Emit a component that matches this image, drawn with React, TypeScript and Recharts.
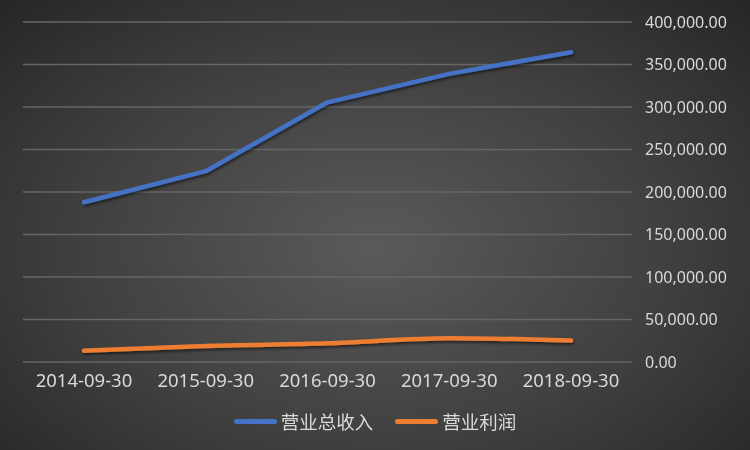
import React from 'react';
import { LineChart, Line, XAxis, YAxis, CartesianGrid, Legend } from 'recharts';

const dates = ['2014-09-30', '2015-09-30', '2016-09-30', '2017-09-30', '2018-09-30'];
const revenue = [188000, 224500, 305500, 339000, 364500];
const profit = [13200, 18800, 22000, 28000, 25200];
const yTicks = [0, 50000, 100000, 150000, 200000, 250000, 300000, 350000, 400000];

const seriesNames = ['营业总收入', '营业利润'];
const seriesColors = ['#4472C4', '#ED7D31'];

const data = dates.map((d, i) => ({ date: d, revenue: revenue[i], profit: profit[i] }));

const numFont = '"Liberation Sans Narrow", "Noto Sans", sans-serif';
const cjkFont = '"Noto Sans CJK SC", sans-serif';

const fmt = (v: number) =>
  v.toLocaleString('en-US', { minimumFractionDigits: 2, maximumFractionDigits: 2 });

function LegendBox() {
  return (
    <div style={{ display: 'flex', justifyContent: 'center', alignItems: 'center', gap: 22, height: 26 }}>
      {seriesNames.map((n, i) => (
        <div key={n} style={{ display: 'flex', alignItems: 'center' }}>
          <span
            style={{
              display: 'inline-block',
              width: 43,
              height: 5,
              borderRadius: 3,
              background: seriesColors[i],
              marginRight: 4,
            }}
          />
          <span style={{ color: '#d9d9d9', fontSize: 18.5, fontFamily: cjkFont, lineHeight: '26px' }}>{n}</span>
        </div>
      ))}
    </div>
  );
}

export default function App() {
  return (
    <div
      style={{
        position: 'fixed',
        left: 0,
        top: 0,
        width: 750,
        height: 450,
        background: 'radial-gradient(ellipse at 50% 55%, #5a5a5a 0%, #404040 55%, #262626 100%)',
      }}
    >
      <LineChart width={750} height={450} data={data} margin={{ top: 22, right: 8, left: 23, bottom: 32 }}>
        <defs>
          <filter id='lineShadow' x='-10%' y='-10%' width='120%' height='140%'>
            <feDropShadow dx='1' dy='2' stdDeviation='1.5' floodColor='#000' floodOpacity='0.55' />
          </filter>
        </defs>
        <CartesianGrid vertical={false} stroke='#666666' strokeWidth={1.3} />
        <XAxis
          dataKey='date'
          padding={{ left: 61, right: 61 }}
          axisLine={false}
          tickLine={false}
          tickSize={0}
          tickMargin={12}
          height={30}
          tick={{ fill: '#d9d9d9', fontSize: 18.5, fontFamily: numFont }}
        />
        <YAxis
          orientation='right'
          domain={[0, 400000]}
          ticks={yTicks}
          tickFormatter={fmt}
          axisLine={false}
          tickLine={false}
          tickSize={0}
          tickMargin={13}
          width={110}
          tick={{ fill: '#d9d9d9', fontSize: 16, fontFamily: numFont, textAnchor: 'start' }}
        />
        <Legend content={<LegendBox />} wrapperStyle={{ left: 0, width: 750, top: 408 }} />
        <Line
          dataKey='revenue'
          name={seriesNames[0]}
          stroke={seriesColors[0]}
          strokeWidth={4.5}
          strokeLinecap='round'
          strokeLinejoin='round'
          dot={false}
          activeDot={false}
          filter='url(#lineShadow)'
          isAnimationActive={false}
        />
        <Line
          dataKey='profit'
          name={seriesNames[1]}
          type='monotone'
          stroke={seriesColors[1]}
          strokeWidth={4.5}
          strokeLinecap='round'
          strokeLinejoin='round'
          dot={false}
          activeDot={false}
          filter='url(#lineShadow)'
          isAnimationActive={false}
        />
      </LineChart>
    </div>
  );
}
